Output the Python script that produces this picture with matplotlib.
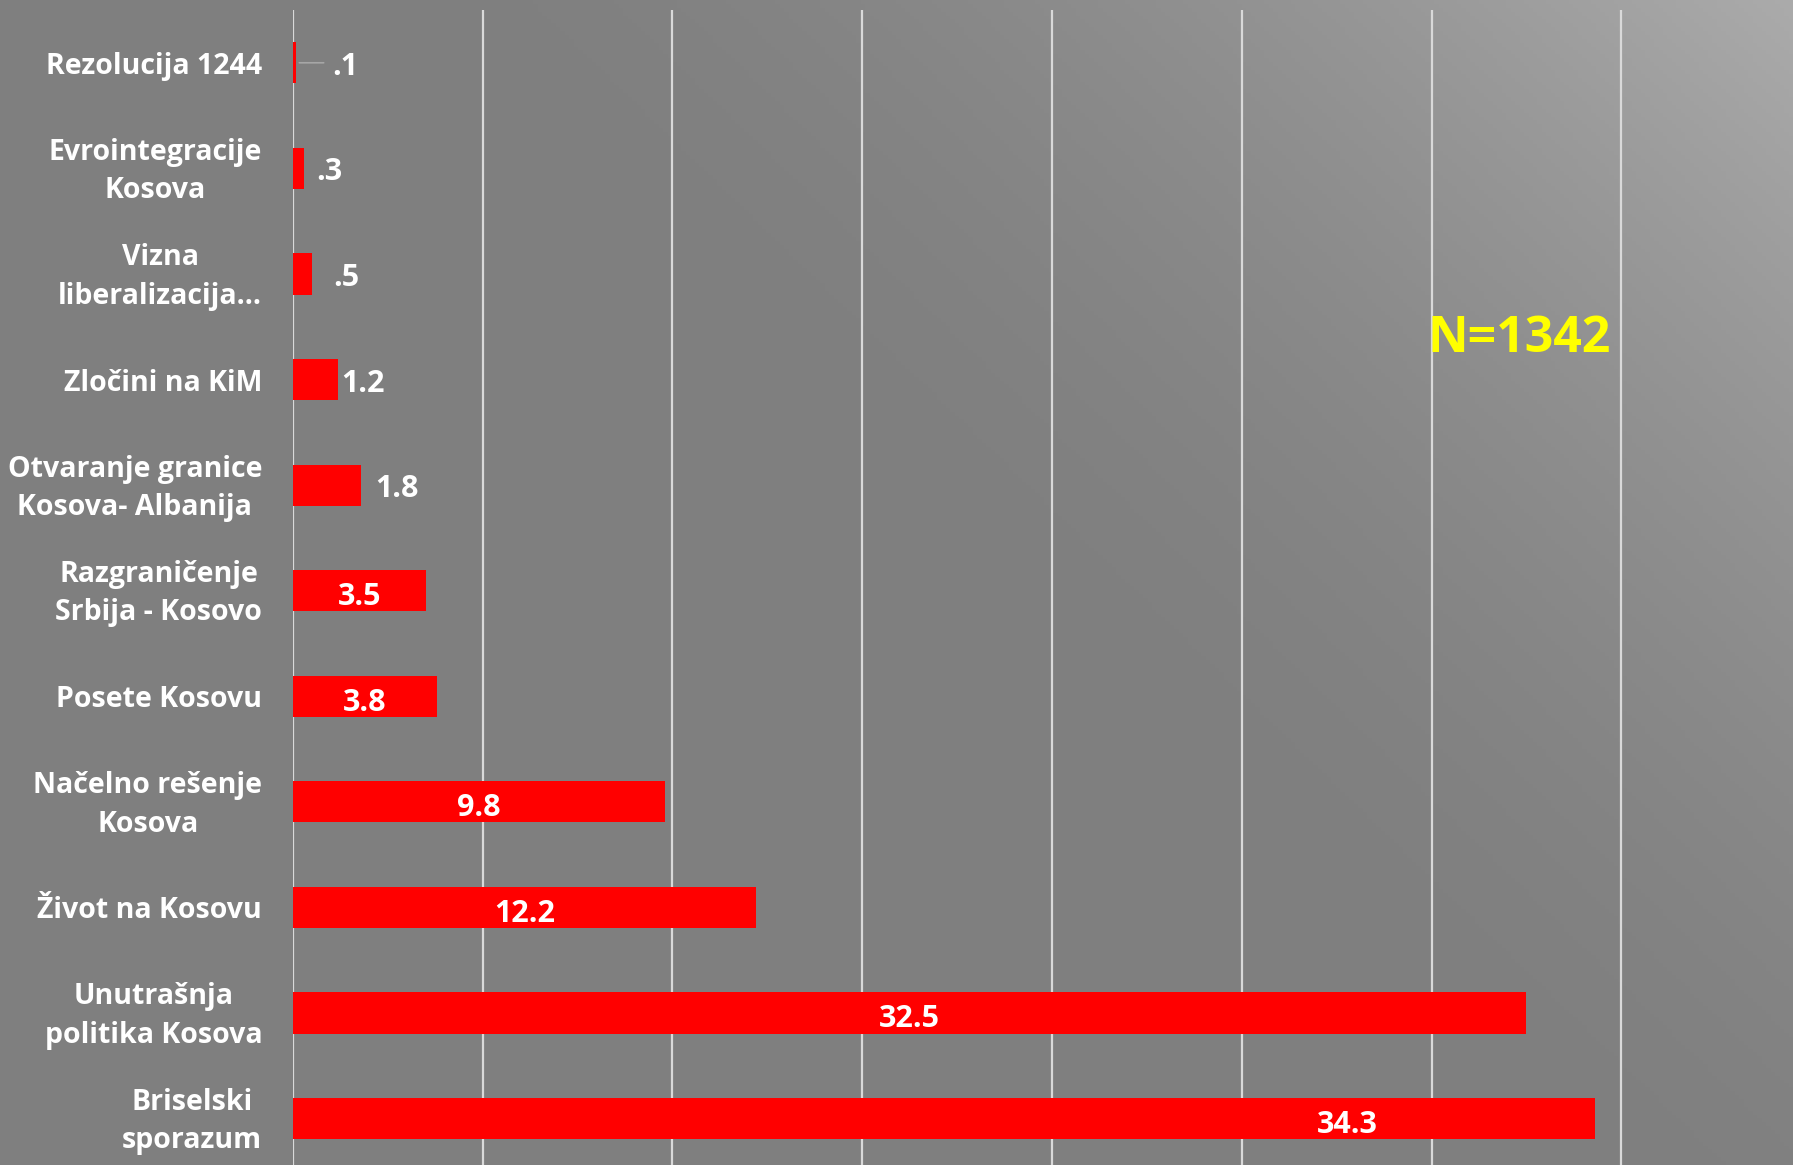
import numpy as np
import matplotlib.pyplot as plt
import matplotlib.transforms as mtransforms

categories = ['Rezolucija 1244', 'Evrointegracije\nKosova', 'Vizna\nliberalizacija...',
              'Zločini na KiM', 'Otvaranje granice\nKosova- Albanija', 'Razgraničenje\nSrbija - Kosovo',
              'Posete Kosovu', 'Načelno rešenje\nKosova', 'Život na Kosovu',
              'Unutrašnja\npolitika Kosova', 'Briselski\nsporazum']
values = [0.1, 0.3, 0.5, 1.2, 1.8, 3.5, 3.8, 9.8, 12.2, 32.5, 34.3]
labels = ['.1', '.3', '.5', '1.2', '1.8', '3.5', '3.8', '9.8', '12.2', '32.5', '34.3']
n_text = 'N=1342'

# pixel offsets of the labels that sit outside the bar
out_offsets = [36, 12, 22, 3, 14]

plt.rcParams['font.family'] = ['Open Sans', 'DejaVu Sans']

fig = plt.figure(figsize=(17.93, 11.65), dpi=100)

# gray background, lighter towards the top-right corner
bg = fig.add_axes([0, 0, 1, 1], zorder=-1)
gx, gy = np.meshgrid(np.linspace(0, 1, 400), np.linspace(0, 1, 300))
t = (gx * 0.6 + gy * 0.4)
g = 0.5 + 0.17 * np.clip((t - 0.55) / 0.45, 0, 1) ** 1.6
bg.imshow(np.dstack([g, g, g]), origin='lower', extent=[0, 1, 0, 1], aspect='auto')
bg.axis('off')

ax = fig.add_axes([292.7 / 1793, 0, 1 - 292.7 / 1793, 1 - 10 / 1165])
ax.patch.set_alpha(0)
y = np.arange(len(categories))
ax.barh(y, values, height=0.39, color='#ff0000', zorder=3)
ax.set_xlim(0, (1793 - 292.7) / 37.96)
ax.set_ylim(10.44, -0.5)
ax.set_xticks(np.arange(0, 40, 5))
ax.xaxis.grid(True, color='#d9d9d9', linewidth=1.6)
ax.tick_params(axis='x', length=0, labelbottom=False)
ax.tick_params(axis='y', length=0, pad=22)
ax.set_yticks(y)
ax.set_yticklabels(categories, color='white', fontsize=20.5, fontweight='bold',
                   multialignment='center', linespacing=1.42)
# nudge two-line labels up a little
shift = mtransforms.ScaledTranslation(0, 5 / 100, fig.dpi_scale_trans)
for lbl in ax.get_yticklabels():
    if '\n' in lbl.get_text():
        lbl.set_transform(lbl.get_transform() + shift)
for s in ax.spines.values():
    s.set_visible(False)

for i, (v, lab) in enumerate(zip(values, labels)):
    if v < 3:
        ax.annotate(lab, (v, i), xytext=(out_offsets[i], -4), textcoords='offset pixels',
                    ha='left', va='center', color='white', fontsize=22, fontweight='bold')
        if i == 0:
            ax.annotate('', (v, i), xytext=(30, 0), textcoords='offset pixels',
                        arrowprops=dict(arrowstyle='-', color='#a6a6a6', lw=1.2))
    else:
        xc = v * 0.81 if i == len(values) - 1 else v / 2
        ax.text(xc, i + 0.06, lab, ha='center', va='center', color='white',
                fontsize=22, fontweight='bold', zorder=4)

ax.text(32.3, 2.62, n_text, ha='center', va='center', color='#ffff00',
        fontsize=36, fontweight='bold')

fig.savefig('out.png', dpi=100)
